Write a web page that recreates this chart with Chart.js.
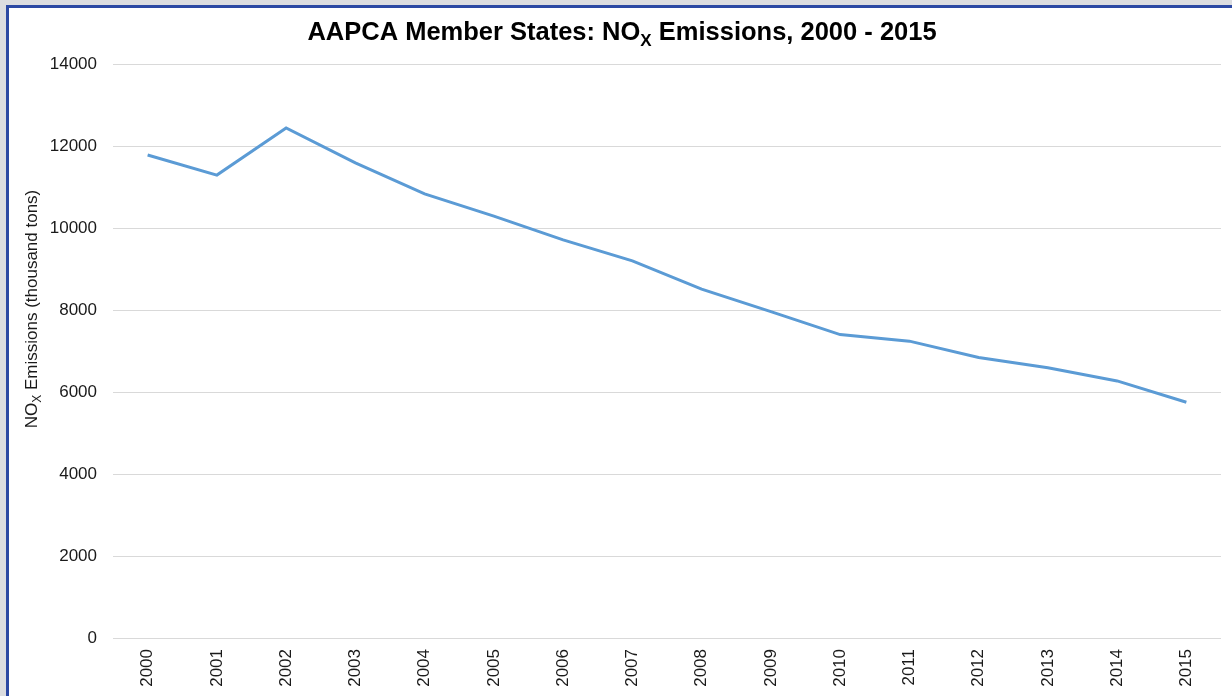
<!DOCTYPE html>
<html>
<head>
<meta charset="utf-8">
<script src="https://cdn.jsdelivr.net/npm/chart.js@4/dist/chart.umd.min.js"></script>
<style>
  html, body { margin:0; padding:0; background:#dcdde0; width:1232px; height:696px; overflow:hidden; }
  #frame { position:absolute; left:6px; top:5px; width:1240px; height:688px;
    border-top:3px solid #2c49a3; border-left:3px solid #2c49a3; background:#fff; }
  #wrap { position:absolute; left:0; top:0; width:1223px; height:688px; }
</style>
</head>
<body>
<div id="frame"><div id="wrap"><canvas id="chart"></canvas></div></div>
<script>
// NOx emissions, thousand tons
const years = ["2000","2001","2002","2003","2004","2005","2006","2007",
               "2008","2009","2010","2011","2012","2013","2014","2015"];
const noxValues = [11780, 11290, 12440, 11590, 10830, 10290, 9710, 9200,
                   8510, 7960, 7400, 7240, 6840, 6590, 6270, 5750];
const yTicks = [0, 2000, 4000, 6000, 8000, 10000, 12000, 14000];

const FONT = "'Liberation Sans', Arial, sans-serif";

// draws text with a subscript "X" piece: parts = [[text, sub?], ...]
function subText(ctx, parts, size, weight, x, y, align){
  const widths = parts.map(([t, sub]) => {
    ctx.font = `${weight} ${sub ? Math.round(size*0.68) : size}px ${FONT}`;
    return ctx.measureText(t).width;
  });
  const total = widths.reduce((a, b) => a + b, 0);
  let cx = align === "center" ? x - total/2 : x;
  parts.forEach(([t, sub], i) => {
    ctx.font = `${weight} ${sub ? Math.round(size*0.68) : size}px ${FONT}`;
    ctx.fillText(t, cx, sub ? y + size*0.22 : y);
    cx += widths[i];
  });
}

const labelsPlugin = {
  id: "labels",
  afterDraw(chart){
    const ctx = chart.ctx;
    ctx.save();
    ctx.fillStyle = "#000";
    ctx.textBaseline = "alphabetic";
    ctx.textAlign = "left";
    subText(ctx, [["AAPCA Member States: NO"], ["X", true], [" Emissions, 2000 - 2015"]],
      25.5, "bold", 613, 32, "center");
    ctx.translate(28, 301);
    ctx.rotate(-Math.PI/2);
    ctx.fillStyle = "#1a1a1a";
    subText(ctx, [["NO"], ["X", true], [" Emissions (thousand tons)"]], 17, "normal", 0, 0, "center");
    ctx.restore();
  }
};

new Chart(document.getElementById("chart"), {
  type: "line",
  data: {
    labels: years,
    datasets: [{
      data: noxValues,
      borderColor: "#5b9bd5",
      borderWidth: 3,
      pointRadius: 0,
      tension: 0,
      fill: false
    }]
  },
  options: {
    responsive: true,
    maintainAspectRatio: false,
    animation: false,
    layout: { padding: { top: 56, right: 11, left: 0, bottom: 0 } },
    plugins: { legend: { display: false }, tooltip: { enabled: false } },
    scales: {
      x: {
        offset: true,
        grid: { display: false, drawTicks: false },
        border: { display: false },
        ticks: { minRotation: 90, maxRotation: 90, padding: 11, color: "#1a1a1a",
                 font: { family: FONT, size: 17 } },
        afterFit(s){ s.height = 58; }
      },
      y: {
        min: 0, max: 14000,
        afterBuildTicks(s){ s.ticks = yTicks.map(v => ({ value: v })); },
        grid: { color: "#d9d9d9", lineWidth: 1, drawTicks: false },
        border: { display: false },
        ticks: { padding: 16, color: "#1a1a1a", font: { family: FONT, size: 17 },
                 callback: v => String(v) },
        afterFit(s){ s.width = 104; }
      }
    }
  },
  plugins: [labelsPlugin]
});
</script>
</body>
</html>
